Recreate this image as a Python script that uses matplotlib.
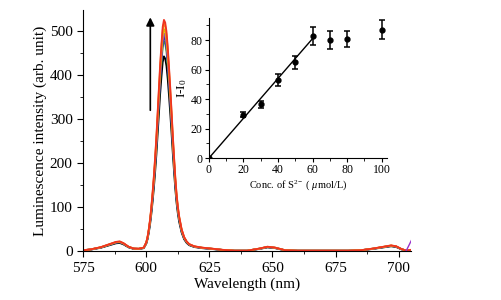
import numpy as np
import matplotlib
matplotlib.use("Agg")
import matplotlib.pyplot as plt
from matplotlib.ticker import MultipleLocator

plt.rcParams['font.family'] = ['Liberation Serif', 'DejaVu Serif']
plt.rcParams['mathtext.fontset'] = 'custom'
plt.rcParams['mathtext.rm'] = 'Liberation Serif'
plt.rcParams['mathtext.it'] = 'Liberation Serif:italic'

# Base spectrum (red curve, highest)
wavelength = [575, 578, 582, 586, 588, 589.5, 591, 593, 595, 597, 599, 600, 600.5, 601,
              601.5, 602, 602.5, 603, 603.5, 604, 604.5, 605, 605.5, 606, 606.5, 607,
              607.5, 608, 608.5, 609, 609.5, 610, 610.5, 611, 611.5, 612, 612.5, 613,
              614, 615, 616, 617, 619, 622, 627, 630, 635, 640, 645, 648, 651, 655,
              660, 670, 680, 685, 690, 694, 697, 699, 701, 703, 704, 705]
base_intensity = [2, 4, 9, 17, 21, 22, 18, 10, 6, 5.5, 8, 20, 32, 50,
                  72, 100, 133, 170, 213, 260, 315, 370, 425, 470, 510, 526,
                  520, 500, 465, 420, 372, 320, 265, 215, 168, 130, 102, 80,
                  50, 32, 22, 16, 11, 8, 5, 3, 1, 1, 6, 10, 8, 2,
                  1, 1, 1, 2, 6, 10, 13, 11, 5, 1, 2, 3]
# peak heights of each spectrum
peak_values = [443, 478, 488, 495, 505, 518, 526]
curve_colors = ['black', '#3a9a3a', '#1f1fbf', '#9933cc', '#d4c200', '#ff8c1a', '#ee3322']
# purple curve rises at the far right end
purple_end_wl = [703, 705]
purple_end_val = [1, 24]

# Inset: I - I0 vs sulfide concentration
conc = [0, 20, 30, 40, 50, 60, 70, 80, 100]
delta_I = [0, 29.5, 36.5, 53, 65, 83, 80, 80.5, 87]
delta_err = [0, 1.5, 2.5, 4, 4.5, 6, 6, 5.5, 6.5]
fit_x = [0, 60]
fit_y = [0, 81]

fig = plt.figure(figsize=(5.01, 3.0), dpi=100)
ax = fig.add_axes([0.166, 0.163, 0.655, 0.803])

wl = np.array(wavelength)
base = np.array(base_intensity, dtype=float)
for pk, col in zip(peak_values, curve_colors):
    ax.plot(wl, base * pk / max(base_intensity), color=col, lw=1.3)
ax.plot(purple_end_wl, purple_end_val, color='#9933cc', lw=1.0)

ax.set_xlim(575, 705)
ax.set_ylim(0, 548)
ax.xaxis.set_major_locator(MultipleLocator(25))
ax.xaxis.set_minor_locator(MultipleLocator(12.5))
ax.yaxis.set_major_locator(MultipleLocator(100))
ax.yaxis.set_minor_locator(MultipleLocator(50))
for s in ['top', 'right']:
    ax.spines[s].set_visible(False)
ax.tick_params(which='both', direction='out', labelsize=11)
ax.tick_params(which='major', length=4)
ax.tick_params(which='minor', length=2.5)
ax.set_xlabel('Wavelength (nm)', fontsize=11, labelpad=2)
ax.set_ylabel('Luminescence intensity (arb. unit)', fontsize=11, labelpad=2)

ax.annotate('', xy=(601.6, 538), xytext=(601.6, 314),
            arrowprops=dict(arrowstyle='-|>', color='black', lw=1.2, mutation_scale=12))

# inset
ins = fig.add_axes([0.417, 0.473, 0.355, 0.467])
ins.errorbar(conc, delta_I, yerr=delta_err, fmt='o', color='black', ms=3.5,
             capsize=2.5, elinewidth=1.1, capthick=1.1)
ins.plot(fit_x, fit_y, color='black', lw=1)
ins.set_xlim(0, 103)
ins.set_ylim(0, 95)
ins.xaxis.set_major_locator(MultipleLocator(20))
ins.xaxis.set_minor_locator(MultipleLocator(10))
ins.yaxis.set_major_locator(MultipleLocator(20))
ins.yaxis.set_minor_locator(MultipleLocator(10))
for s in ['top', 'right']:
    ins.spines[s].set_visible(False)
ins.patch.set_alpha(0)
ins.tick_params(which='both', direction='out', labelsize=8.5, pad=1.5)
ins.tick_params(which='major', length=3)
ins.tick_params(which='minor', length=2)
ins.set_xlabel(r'Conc. of S$^{2-}$ ( $\mu$mol/L)', fontsize=7.5, labelpad=1)
ins.set_ylabel(r'I-I$_0$', fontsize=9.5, labelpad=1)

fig.savefig('out.png', dpi=100)
